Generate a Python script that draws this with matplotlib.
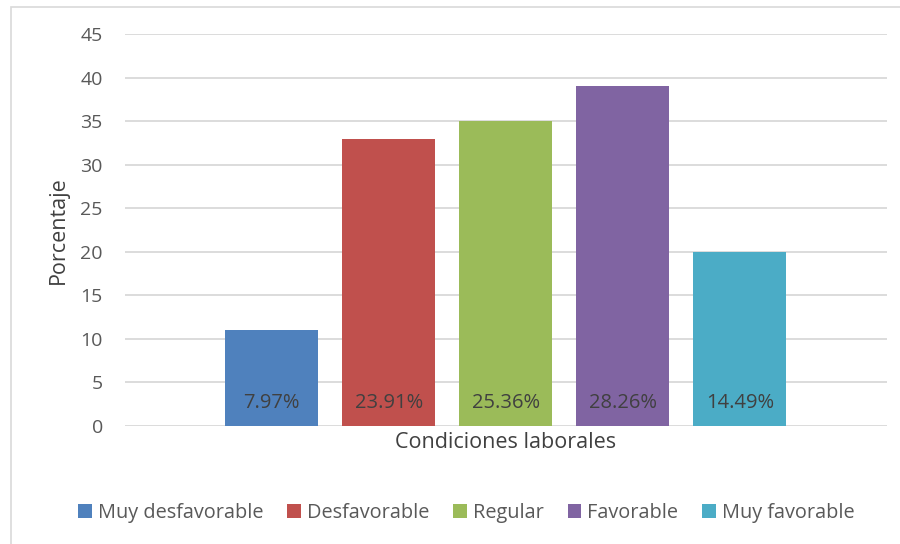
import matplotlib
matplotlib.use('Agg')
import matplotlib.pyplot as plt
from matplotlib.patches import Rectangle

# conteos por nivel de condiciones laborales
categorias = ['Muy desfavorable', 'Desfavorable', 'Regular', 'Favorable', 'Muy favorable']
conteos = [11, 33, 35, 39, 20]
colores = ['#4F81BD', '#C0504D', '#9BBB59', '#8064A2', '#4BACC6']
yticks = [0, 5, 10, 15, 20, 25, 30, 35, 40, 45]

plt.rcParams['font.family'] = ['Open Sans', 'DejaVu Sans']
texto = '#595959'

total = sum(conteos)
porcentajes = [c / total * 100 for c in conteos]

fig = plt.figure(figsize=(9, 5.44), dpi=100)
ax = fig.add_axes([125 / 900, 1 - 426 / 544, 762 / 900, 392 / 544])

# marco gris del grafico
fig.patches.append(Rectangle((11 / 900, -0.1), 1.0, 1 - 7 / 544 + 0.1, transform=fig.transFigure,
                             fill=False, edgecolor='#d9d9d9', linewidth=1.2))

x = list(range(len(categorias)))
barras = ax.bar(x, conteos, width=0.795, color=colores, label=categorias, zorder=3)

for xi, p in zip(x, porcentajes):
    ax.annotate(f'{p:.2f}%', xy=(xi, 0), xytext=(0, 23), textcoords='offset pixels',
                ha='center', va='center', fontsize=14.5, color='#404040', zorder=4)

ax.set_xlim(-1.252, 4 + 1.256)
ax.set_ylim(0, 45)
ax.set_yticks(yticks)
ax.set_xticks([])
ax.yaxis.grid(True, color='#d9d9d9', linewidth=1.3, zorder=0)
for s in ax.spines.values():
    s.set_visible(False)
ax.tick_params(axis='y', length=0, pad=16, labelsize=14, labelcolor=texto)

ax.set_ylabel('Porcentaje', fontsize=15.5, color='#404040', labelpad=8)
ax.set_xlabel('Condiciones laborales', fontsize=15.5, color='#404040', labelpad=4)

fig.legend(handles=barras, labels=categorias, loc='center', bbox_to_anchor=(0.518, 1 - 513 / 544),
           ncol=5, frameon=False, fontsize=14.3, handlelength=0.7, handleheight=0.7,
           handletextpad=0.3, columnspacing=1.2, labelcolor=texto)

fig.savefig('out.png', dpi=100)
